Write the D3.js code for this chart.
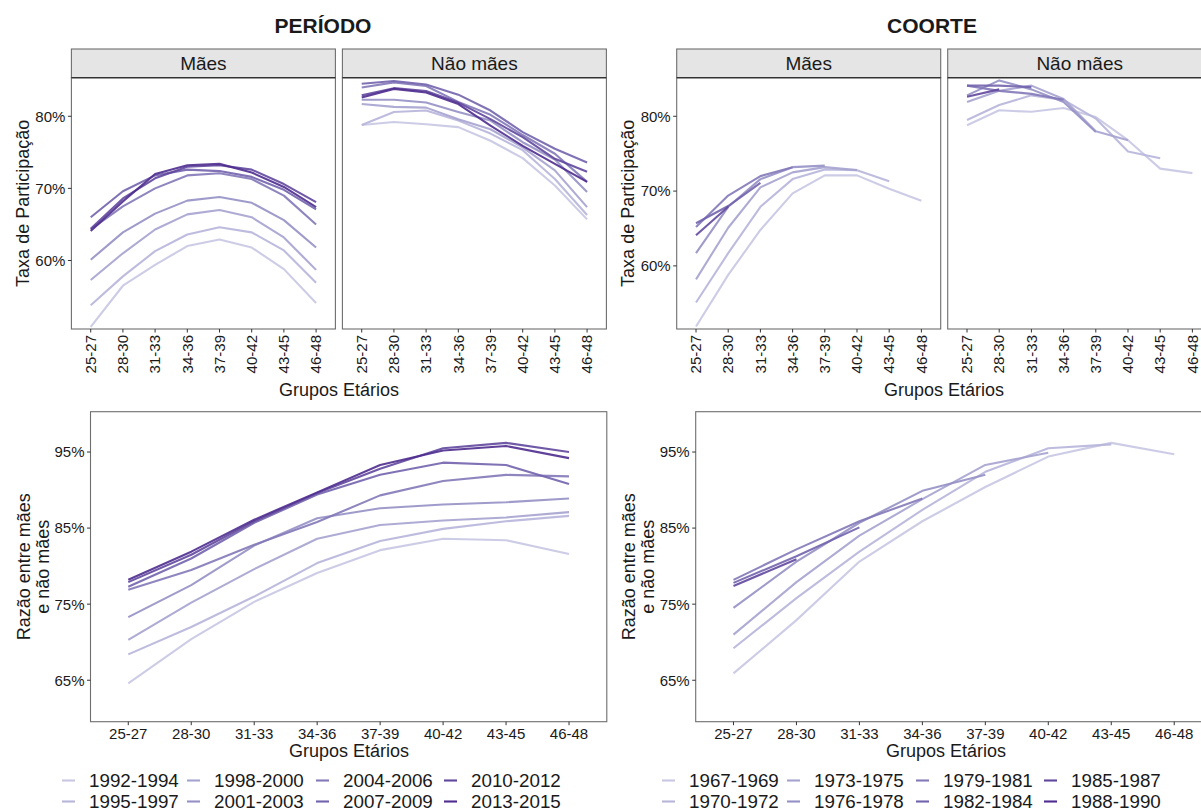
<!DOCTYPE html>
<html><head><meta charset="utf-8">
<script src="https://cdn.jsdelivr.net/npm/d3@7"></script>
<style>
body{margin:0;background:#fff}
text{font-family:"Liberation Sans",Arial,sans-serif;fill:#1a1a1a}
</style>
</head><body>
<svg id="c" width="1201" height="812"></svg>
<script>
// ---------------- DATA ----------------
const ageGroups = ["25-27","28-30","31-33","34-36","37-39","40-42","43-45","46-48"];
const periods = ["1992-1994","1995-1997","1998-2000","2001-2003","2004-2006","2007-2009","2010-2012","2013-2015"];
const cohorts = ["1967-1969","1970-1972","1973-1975","1976-1978","1979-1981","1982-1984","1985-1987","1988-1990"];
const facetNames = ["Mães","Não mães"];
const yTicksTop = [60,70,80];
const yTicksBottom = [65,75,85,95];

// Participation rate, period, mothers (%)
const periodMaes = [
  [50.8,56.5,59.4,62.0,62.9,61.8,58.8,54.1],
  [53.8,57.8,61.3,63.6,64.6,63.9,61.4,56.9],
  [57.3,61.0,64.3,66.4,67.0,66.0,63.2,58.7],
  [60.1,63.9,66.5,68.3,68.8,68.0,65.6,61.8],
  [64.3,67.5,70.0,71.8,72.1,71.3,69.0,65.0],
  [66.0,69.6,71.8,72.6,72.4,71.6,69.8,67.1],
  [64.4,68.6,71.4,73.0,73.2,72.6,70.6,68.1],
  [64.1,68.2,72.0,73.2,73.4,72.2,70.2,67.4]
];
// Participation rate, period, non-mothers (%)
const periodNaoMaes = [
  [78.8,79.2,78.9,78.5,76.6,74.2,70.4,65.7],
  [78.8,80.6,80.8,79.4,77.6,75.3,71.3,66.3],
  [81.7,81.3,81.2,79.6,78.2,75.7,72.5,67.4],
  [82.3,82.3,81.9,80.6,79.4,76.4,74.0,69.5],
  [84.0,84.7,84.2,82.0,80.2,77.4,74.8,70.9],
  [84.5,84.9,84.4,83.0,80.8,77.8,75.5,73.6],
  [82.9,83.9,83.5,81.9,79.6,77.1,74.1,72.3],
  [82.6,83.8,83.3,81.7,78.7,75.9,73.4,70.9]
];
// Ratio mothers / non-mothers, period (%)
const periodRatio = [
  [64.6,70.4,75.3,79.1,82.1,83.6,83.4,81.6],
  [68.4,72.0,76.0,80.4,83.3,84.9,85.9,86.6],
  [70.3,75.2,79.6,83.6,85.4,86.0,86.4,87.1],
  [73.3,77.5,82.7,86.3,87.6,88.1,88.4,88.9],
  [76.9,79.5,82.8,85.8,89.3,91.2,92.0,91.8],
  [77.3,81.0,85.7,89.4,92.0,93.6,93.3,90.8],
  [77.9,81.5,85.9,89.6,92.8,95.5,96.2,95.0],
  [78.2,81.9,86.1,89.7,93.3,95.2,95.8,94.2]
];
// Participation rate, cohort, mothers (%)
const cohortMaes = [
  [51.9,58.8,64.8,69.7,72.1,72.1,70.3,68.7],
  [55.1,61.7,67.9,71.6,72.9,72.8,71.3],
  [58.2,65.1,70.5,72.5,73.2,72.8],
  [61.7,67.9,71.6,73.2,73.4],
  [65.2,69.4,72.0,73.2],
  [65.7,68.0,71.1],
  [64.1,67.9],
  [64.3]
];
// Participation rate, cohort, non-mothers (%)
const cohortNaoMaes = [
  [78.8,80.8,80.6,81.1,79.9,76.8,73.0,72.4],
  [79.5,81.5,82.8,82.2,79.7,75.3,74.4],
  [81.9,83.4,84.1,82.3,78.0,76.8],
  [82.8,84.8,83.6,81.9,77.9],
  [84.1,83.4,83.0,82.2],
  [84.1,84.1,83.9],
  [82.6,83.6],
  [82.6]
];
// Ratio mothers / non-mothers, cohort (%)
const cohortRatio = [
  [65.9,72.9,80.6,85.9,90.4,94.4,96.2,94.7],
  [69.2,75.8,81.9,87.4,92.4,95.5,96.0],
  [71.0,77.9,84.0,88.8,93.3,94.9],
  [74.5,80.6,85.7,89.9,92.0],
  [78.2,82.2,85.9,88.9],
  [77.8,81.3,85.1],
  [77.4,80.9],
  [77.5]
];
const palette = ["#c8c6e3","#b7b5da","#a5a2cf","#9590c5","#8379b8","#7263ad","#60479d","#4f2c8f"];

// ---------------- DRAWING ----------------
const svg = d3.select("#c");
const FONT_TICK = 15, FONT_TITLE = 18, FONT_LEGEND = 18.8;
const BORDER = "#6e6e6e";

function drawPanel(o){
  const g = svg.append("g");
  const xs = d3.scalePoint().domain(ageGroups).range([o.x, o.x+o.w]).padding(0.6);
  const ys = d3.scaleLinear().domain(o.yDomain).range([o.y+o.h, o.y]);
  g.append("rect").attr("x",o.x).attr("y",o.y).attr("width",o.w).attr("height",o.h).attr("fill","#fff");
  const clipId = "clip"+Math.round(o.x)+"_"+Math.round(o.y);
  svg.append("clipPath").attr("id",clipId).append("rect")
     .attr("x",o.x).attr("y",o.y).attr("width",o.w).attr("height",o.h);
  const line = d3.line().x((d,i)=>xs(ageGroups[i])).y(d=>ys(d));
  const lg = g.append("g").attr("clip-path","url(#"+clipId+")");
  o.data.forEach((s,k)=>{
    lg.append("path").attr("d",line(s)).attr("fill","none")
      .attr("stroke",palette[k]).attr("stroke-width",2.1).attr("stroke-opacity",0.9)
      .attr("stroke-linejoin","round");
  });
  g.append("rect").attr("x",o.x).attr("y",o.y).attr("width",o.w).attr("height",o.h)
    .attr("fill","none").attr("stroke",BORDER).attr("stroke-width",1.1);
  // x ticks
  ageGroups.forEach(a=>{
    g.append("line").attr("x1",xs(a)).attr("x2",xs(a)).attr("y1",o.y+o.h).attr("y2",o.y+o.h+3.5)
      .attr("stroke","#333").attr("stroke-width",1);
    if(o.rotate){
      g.append("text").attr("transform",`translate(${xs(a)},${o.y+o.h+6}) rotate(-90)`)
        .attr("text-anchor","end").attr("dy","0.35em").attr("font-size",FONT_TICK).text(a);
    } else {
      g.append("text").attr("x",xs(a)).attr("y",o.y+o.h+17).attr("text-anchor","middle")
        .attr("font-size",FONT_TICK).text(a);
    }
  });
  if(o.showY){
    o.yTicks.forEach(t=>{
      g.append("line").attr("x1",o.x-3.5).attr("x2",o.x).attr("y1",ys(t)).attr("y2",ys(t))
        .attr("stroke","#333").attr("stroke-width",1);
      g.append("text").attr("x",o.x-6).attr("y",ys(t)).attr("dy","0.36em").attr("text-anchor","end")
        .attr("font-size",FONT_TICK).text(t+"%");
    });
  }
  if(o.strip){
    g.append("rect").attr("x",o.x).attr("y",o.y-28.7).attr("width",o.w).attr("height",28.7)
      .attr("fill","#e5e5e5").attr("stroke",BORDER).attr("stroke-width",1.1);
    g.append("line").attr("x1",o.x).attr("x2",o.x+o.w).attr("y1",o.y).attr("y2",o.y)
      .attr("stroke","#333").attr("stroke-width",1.2);
    g.append("text").attr("x",o.x+o.w/2).attr("y",o.y-14.3).attr("dy","0.36em")
      .attr("text-anchor","middle").attr("font-size",19).text(o.strip);
  }
}

function yTitle(lines, cx, cy){
  const t = svg.append("text").attr("transform",`translate(${cx},${cy}) rotate(-90)`)
    .attr("text-anchor","middle").attr("font-size",FONT_TITLE);
  lines.forEach((l,i)=>{
    t.append("tspan").attr("x",0).attr("dy", i===0 ? (-(lines.length-1)*0.52+0.35)+"em" : "1.04em").text(l);
  });
}
function xTitle(txt, cx, y){
  svg.append("text").attr("x",cx).attr("y",y).attr("text-anchor","middle")
    .attr("font-size",FONT_TITLE).text(txt);
}

const topY = 77.7, topH = 251.3, pW = 264, gap = 7;
const topDomL = [50.5, 85.35], topDomR = [51.56, 85.16];
const botY = 411.7, botH = 310, botW = 516.3, botDom = [59.55, 100.3];

// Titles
svg.append("text").attr("x",323).attr("y",33).attr("text-anchor","middle")
  .attr("font-size",21).attr("font-weight","bold").text("PERÍODO");
svg.append("text").attr("x",932).attr("y",33).attr("text-anchor","middle")
  .attr("font-size",21).attr("font-weight","bold").text("COORTE");

// PERÍODO top
[periodMaes, periodNaoMaes].forEach((d,i)=>{
  drawPanel({x:71.4+i*(pW+gap), y:topY, w:pW, h:topH, yDomain:topDomL, yTicks:yTicksTop,
    data:d, rotate:true, showY:i===0, strip:facetNames[i]});
});
yTitle(["Taxa de Participação"], 23, topY+topH/2);
xTitle("Grupos Etários", 339, 396);

// COORTE top
[cohortMaes, cohortNaoMaes].forEach((d,i)=>{
  drawPanel({x:676.7+i*(pW+gap), y:topY, w:pW, h:topH, yDomain:topDomR, yTicks:yTicksTop,
    data:d, rotate:true, showY:i===0, strip:facetNames[i]});
});
yTitle(["Taxa de Participação"], 628, topY+topH/2);
xTitle("Grupos Etários", 944, 396);

// bottom ratio
drawPanel({x:90.5, y:botY, w:botW, h:botH, yDomain:botDom, yTicks:yTicksBottom,
  data:periodRatio, rotate:false, showY:true});
yTitle(["Razão entre mães","e não mães"], 33, botY+botH/2);
xTitle("Grupos Etários", 349, 757);

drawPanel({x:695.7, y:botY, w:botW, h:botH, yDomain:botDom, yTicks:yTicksBottom,
  data:cohortRatio, rotate:false, showY:true});
yTitle(["Razão entre mães","e não mães"], 638, botY+botH/2);
xTitle("Grupos Etários", 946, 757);

// Legends
function legend(names, xs){
  names.forEach((n,k)=>{
    const col = Math.floor(k/2), row = k%2;
    const tx = xs[col], cy = 780.5 + row*21;
    svg.append("line").attr("x1",tx-27).attr("x2",tx-14).attr("y1",cy).attr("y2",cy)
      .attr("stroke",palette[k]).attr("stroke-width",2.1);
    svg.append("text").attr("x",tx).attr("y",cy).attr("dy","0.36em")
      .attr("font-size",FONT_LEGEND).text(n);
  });
}
legend(periods, [89,214,343,471]);
legend(cohorts, [689,814,943,1071]);
</script>
</body></html>
